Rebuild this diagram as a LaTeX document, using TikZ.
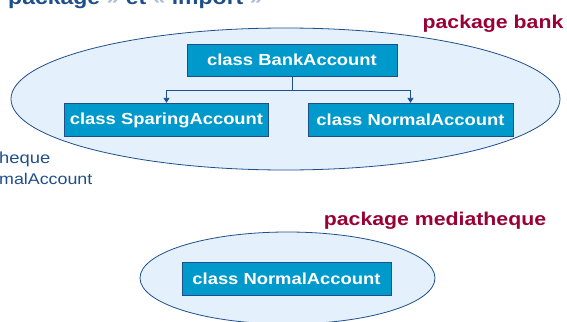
\documentclass[tikz,border=0pt]{standalone}
\usepackage{fontspec}
\setmainfont{Liberation Sans}[FakeStretch=1.15]
\usepackage{tikz}
\usetikzlibrary{arrows.meta}
\definecolor{pkgblue}{HTML}{1F4E8C}
\definecolor{pkgfill}{HTML}{E4F1FC}
\definecolor{classfill}{HTML}{0099CC}
\definecolor{pkgred}{HTML}{990033}
\definecolor{quotegrey}{HTML}{A9BCD6}
\tikzset{%
    >={Triangle[length=5pt,width=6pt]},
    package/.style={draw=pkgblue, fill=pkgfill, line width=0.8pt},
    classbox/.style={draw=pkgblue, fill=classfill, text=white, line width=0.8pt,
        inner sep=0pt, font=\bfseries\fontsize{16}{18}\selectfont},
    pkglabel/.style={text=pkgred, anchor=base, font=\bfseries\fontsize{18.5}{20}\selectfont},
    note/.style={text=pkgblue, anchor=base west, inner sep=0pt}
}
\newcommand\ClassBox[6]{%
    \node[classbox, minimum width=#4pt, minimum height=#5pt] (#1) at (#2,#3) {#6}
}

\begin{document}
\begin{tikzpicture}[x=1pt, y=-1pt]
      \useasboundingbox (0,0) rectangle (567,321);
      \clip (0,0) rectangle (567,321);

      \node[note, font=\bfseries\fontsize{20}{22}\selectfont] (title) at (8,5)
          {package \textcolor{quotegrey}{»} et \textcolor{quotegrey}{«} import \textcolor{quotegrey}{»}};

      \draw[package] (285.5,99) ellipse (274.5pt and 71pt);
      \node[pkglabel] (bank) at (493,29) {package bank};

      \ClassBox{bankaccount}{292}{60}{210}{32}{class BankAccount};
      \ClassBox{sparing}{166.5}{120}{204}{33.5}{class SparingAccount};
      \ClassBox{normal}{410.5}{120}{205}{33.5}{class NormalAccount};

      \draw[->, pkgblue, line width=0.8pt] (bankaccount.south) -- ++(0,14) -| (sparing.north);
      \draw[->, pkgblue, line width=0.8pt] (bankaccount.south) -- ++(0,14) -| (normal.north);

      \node[note, font=\fontsize{16}{18}\selectfont] (mediapart) at (-1,163) {heque};
      \node[note, font=\fontsize{15.5}{17}\selectfont] (normalpart) at (-1,184) {malAccount};

      \draw[package] (287.5,278) ellipse (147.5pt and 46pt);
      \node[pkglabel] (mediatheque) at (435,225) {package mediatheque};

      \ClassBox{medianormal}{286.5}{278.5}{209}{33}{class NormalAccount};
    \end{tikzpicture}
\end{document}
